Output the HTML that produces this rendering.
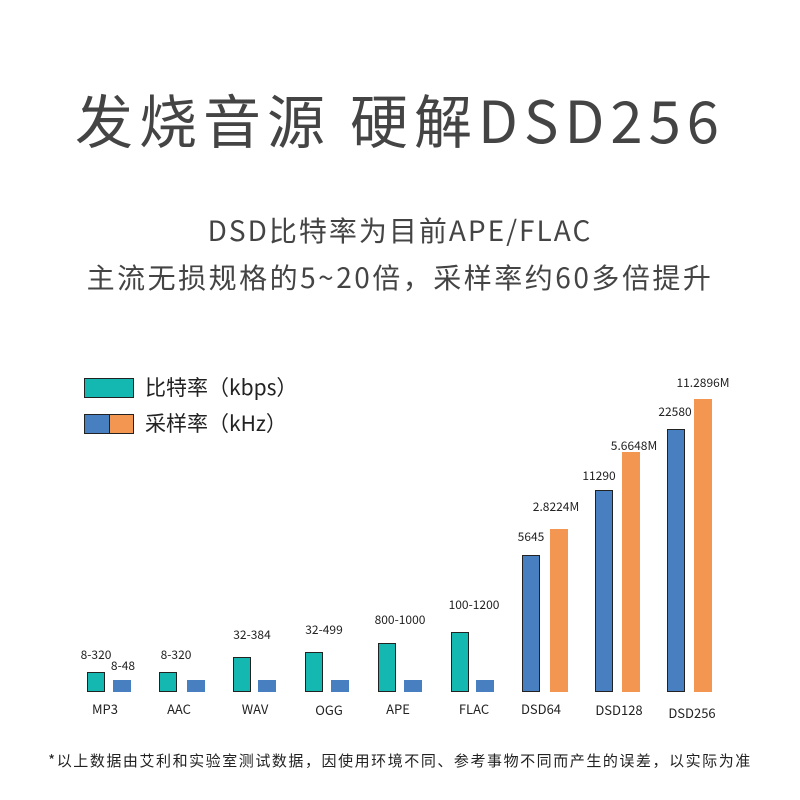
<!DOCTYPE html>
<html><head><meta charset="utf-8"><style>
body{margin:0;width:800px;height:800px;background:#fff;position:relative;overflow:hidden;font-family:"Noto Sans CJK SC","Liberation Sans",sans-serif;color:#444}
.a{position:absolute;white-space:nowrap}
.c{position:absolute;transform:translateX(-50%);white-space:nowrap}
.b{position:absolute;box-sizing:border-box}
.t{background:#14b8b0;border:1.5px solid #222}
.bl{background:#477fc1}
.bk{background:#477fc1;border:1.5px solid #222}
.o{background:#f29651}
.v{font-size:12px;color:#222}
.x{font-size:13px;color:#222}
</style></head><body>
<div class="c" style="left:400px;top:76px;font-size:58px;letter-spacing:6px;line-height:84px">发烧音源 硬解DSD256</div>
<div class="c" style="left:400px;top:209px;font-size:28px;letter-spacing:2px;line-height:42px">DSD比特率为目前APE/FLAC</div>
<div class="c" style="left:400px;top:256px;font-size:28px;letter-spacing:2.5px;line-height:42px">主流无损规格的5~20倍，采样率约60多倍提升</div>
<div class="b t" style="left:84px;top:378px;width:50px;height:20px"></div>
<div class="a" style="left:145px;top:372px;font-size:21px;color:#222">比特率（kbps）</div>
<div class="b bk" style="left:84px;top:414px;width:26px;height:20px"></div>
<div class="b o" style="left:110px;top:414px;width:24px;height:20px;border:1.5px solid #222;border-left:none"></div>
<div class="a" style="left:145px;top:408px;font-size:21px;color:#222">采样率（kHz）</div>

<div class="b t" style="left:87px;top:672px;width:18px;height:20px"></div>
<div class="b bl" style="left:113px;top:680px;width:18px;height:12px"></div>
<div class="b t" style="left:159px;top:672px;width:18px;height:20px"></div>
<div class="b bl" style="left:187px;top:680px;width:18px;height:12px"></div>
<div class="b t" style="left:233px;top:657px;width:18px;height:35px"></div>
<div class="b bl" style="left:258px;top:680px;width:18px;height:12px"></div>
<div class="b t" style="left:305px;top:652px;width:18px;height:40px"></div>
<div class="b bl" style="left:331px;top:680px;width:18px;height:12px"></div>
<div class="b t" style="left:378px;top:643px;width:18px;height:49px"></div>
<div class="b bl" style="left:404px;top:680px;width:18px;height:12px"></div>
<div class="b t" style="left:451px;top:632px;width:18px;height:60px"></div>
<div class="b bl" style="left:476px;top:680px;width:18px;height:12px"></div>
<div class="b bk" style="left:522px;top:555px;width:18px;height:137px"></div>
<div class="b o" style="left:550px;top:529px;width:18px;height:163px"></div>
<div class="b bk" style="left:595px;top:490px;width:18px;height:202px"></div>
<div class="b o" style="left:622px;top:452px;width:18px;height:240px"></div>
<div class="b bk" style="left:667px;top:429px;width:18px;height:263px"></div>
<div class="b o" style="left:694px;top:399px;width:18px;height:293px"></div>

<div class="c v" style="left:96px;top:646px">8-320</div>
<div class="c v" style="left:123px;top:657px">8-48</div>
<div class="c v" style="left:176px;top:646px">8-320</div>
<div class="c v" style="left:252px;top:626px">32-384</div>
<div class="c v" style="left:324px;top:621px">32-499</div>
<div class="c v" style="left:400px;top:611px">800-1000</div>
<div class="c v" style="left:474px;top:596px">100-1200</div>
<div class="c v" style="left:531px;top:528px">5645</div>
<div class="c v" style="left:556px;top:498px">2.8224M</div>
<div class="c v" style="left:599px;top:467px">11290</div>
<div class="c v" style="left:634px;top:437px">5.6648M</div>
<div class="c v" style="left:675px;top:403px">22580</div>
<div class="c v" style="left:703px;top:374px">11.2896M</div>

<div class="c x" style="left:105px;top:699px">MP3</div>
<div class="c x" style="left:179px;top:699px">AAC</div>
<div class="c x" style="left:255px;top:699px">WAV</div>
<div class="c x" style="left:329px;top:700px">OGG</div>
<div class="c x" style="left:398px;top:699px">APE</div>
<div class="c x" style="left:474px;top:699px">FLAC</div>
<div class="c x" style="left:541px;top:699px">DSD64</div>
<div class="c x" style="left:619px;top:700px">DSD128</div>
<div class="c x" style="left:692px;top:703px">DSD256</div>

<div class="c" style="left:400px;top:750px;font-size:15px;letter-spacing:1.55px;color:#222">*以上数据由艾利和实验室测试数据，因使用环境不同、参考事物不同而产生的误差，以实际为准</div>
</body></html>
